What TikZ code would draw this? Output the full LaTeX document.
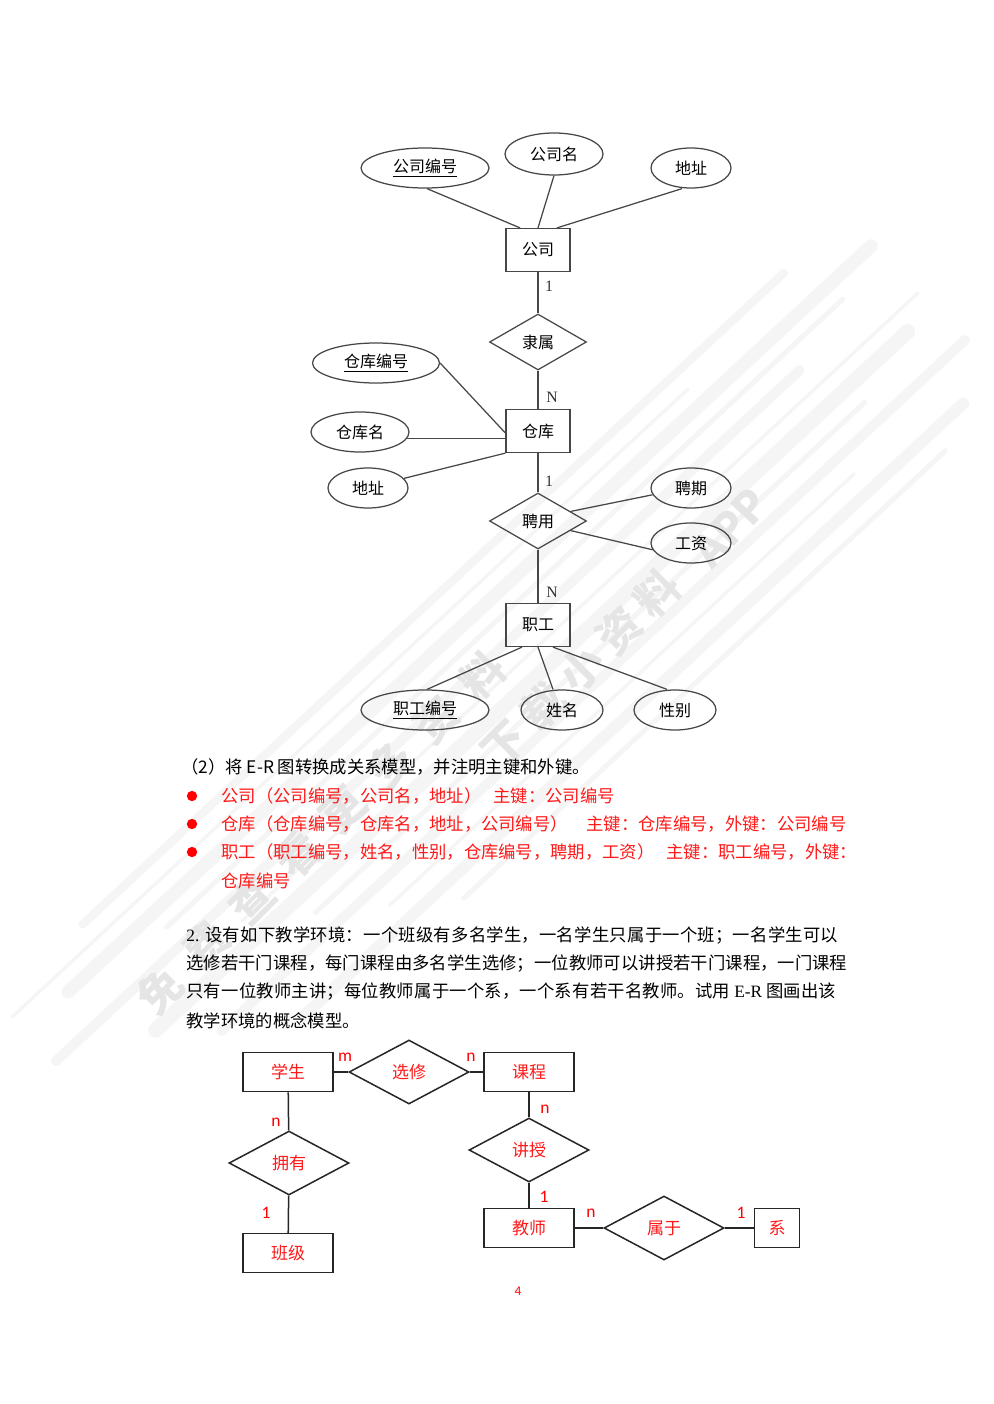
\documentclass[tikz,border=0pt]{standalone}
\usepackage{fontspec}
\setmainfont{Noto Sans CJK SC}
\newfontfamily\tms{Liberation Serif}
\newfontfamily\carl{Carlito}
\usetikzlibrary{shapes.geometric,calc}
\newcommand\jline[2]{\parbox{#1}{\XeTeXlinebreaklocale "zh"\XeTeXlinebreakskip=0pt plus 1.5pt\relax\parfillskip=0pt\relax #2}}
\begin{document}
\begin{tikzpicture}[x=0.6pt,y=-0.6pt,
  ln/.style={draw=black!72, line width=0.75pt},
  bl/.style={draw=black!85, line width=0.9pt},
  ent/.style={rectangle, ln, inner sep=0, minimum width=38.4pt, minimum height=25.8pt, font=\fontsize{9.6}{11}\selectfont},
  rel/.style={diamond, ln, inner sep=0, minimum width=58.2pt, minimum height=33.6pt, font=\fontsize{9.6}{11}\selectfont},
  att/.style={ellipse, ln, inner sep=0, minimum height=24pt, font=\fontsize{9.6}{11}\selectfont},
  card/.style={inner sep=0, font=\tms\fontsize{9.5}{11}\selectfont, text=black!80},
  bent/.style={rectangle, bl, inner sep=0, minimum width=54pt, minimum height=23.4pt, text=red!90, font=\fontsize{10.2}{12}\selectfont},
  brel/.style={diamond, bl, inner sep=0, minimum width=72pt, minimum height=38.4pt, text=red!90, font=\fontsize{10.2}{12}\selectfont},
  bcard/.style={inner sep=0, text=red, font=\carl\fontsize{10.5}{12}\selectfont},
  txt/.style={inner sep=0, anchor=west, font=\fontsize{10.4}{12}\selectfont},
  rtxt/.style={txt, text=red!90},
  bullet/.style={circle, fill=red, inner sep=0, minimum size=6.2pt},
  wm/.style={inner sep=0, text=black!10, font=\bfseries\fontsize{26}{28}\selectfont},
  wmline/.style={draw=black!4, line cap=round}
]
\fill[white] (0,0) rectangle (993,1404);
\useasboundingbox (0,0) rectangle (993,1404);

% ---------- watermark ----------
\coordinate (w1) at (70,1075);
\coordinate (w2) at (915,290);
\foreach \o/\w/\a/\b in {-72/5/0.10/0.93,-58/2/0.0/0.80,-44/8/0.05/1.0,-30/3/0.15/0.95,-14/6/0.0/0.88,3/2/0.2/1.0,18/9/0.08/0.97,34/3/0.25/0.90,50/6/0.12/1.0,66/2/0.30/0.85,82/7/0.18/0.96,98/3/0.35/0.92}{
  \draw[wmline, line width=\w pt] ($(w1)!\a!(w2)+(\o,\o)$) -- ($(w1)!\b!(w2)+(\o,\o)$);
}
\foreach \c [count=\i from 0] in {免,费,查,看,更,多,资,料}{
  \node[wm, rotate=45] (wa\i) at ({160+46*\i},{990-45*\i}) {\c};
}
\foreach \c [count=\i from 0] in {下,载,小,资,料}{
  \node[wm, rotate=45] (wb\i) at ({505+38*\i},{745-38*\i}) {\c};
}
\node[wm, rotate=47, anchor=west] (wbapp) at (700,560) {APP};

% ---------- ER diagram 1 ----------
\node[ent] (gs) at (538,250) {公司};
\node[att, minimum width=76.8pt] (gsbh) at (425,168) {\underline{公司编号}};
\node[att, minimum width=58.8pt, minimum height=25.2pt] (gsm) at (554,154) {公司名};
\node[att, minimum width=48pt] (gsdz) at (691,168) {地址};
\node[rel] (ls) at (538,342) {隶属};
\node[ent] (ck) at (538,431) {仓库};
\node[att, minimum width=76.2pt] (ckbh) at (376,363) {\underline{仓库编号}};
\node[att, minimum width=58.8pt] (ckm) at (360,432) {仓库名};
\node[att, minimum width=48pt] (ckdz) at (368,488) {地址};
\node[rel] (py) at (538,521) {聘用};
\node[att, minimum width=48pt] (pq) at (691,488) {聘期};
\node[att, minimum width=48pt] (gz) at (691,543) {工资};
\node[ent] (zg) at (538,625) {职工};
\node[att, minimum width=76.8pt] (zgbh) at (425,710) {\underline{职工编号}};
\node[att, minimum width=49.2pt] (xm) at (562,710) {姓名};
\node[att, minimum width=49.2pt] (xb) at (675,710) {性别};

\draw[ln] ([xshift=1.2pt]gsbh.south) -- ([xshift=-10.8pt]gs.north);
\draw[ln] (gsm.south) -- (gs.north);
\draw[ln] ([xshift=-5.4pt]gsdz.south) -- ([xshift=11.4pt]gs.north);
\draw[ln] (gs) -- (ls);
\draw[ln] (ls) -- (ck);
\draw[ln] (ckbh.east) -- ([yshift=-1.2pt]ck.west);
\draw[ln] (ckm.-8) -- (ckm.-8 -| ck.west);
\draw[ln] (ckdz.15) -- (ck.south west);
\draw[ln] (ck) -- (py);
\draw[ln] ($(py.north east)!0.33!(py.east)$) -- (pq.190);
\draw[ln] ($(py.south east)!0.33!(py.east)$) -- (gz.190);
\draw[ln] (py) -- (zg);
\draw[ln] ([xshift=-9.6pt]zg.south) -- ([xshift=1.2pt]zgbh.north);
\draw[ln] (zg.south) -- ([xshift=-5.4pt]xm.north);
\draw[ln] ([xshift=9pt]zg.south) -- ([xshift=-4.8pt]xb.north);

\node[card] (c1) at (549,286) {1};
\node[card] (c2) at (552,397) {N};
\node[card] (c3) at (549,481) {1};
\node[card] (c4) at (552,592) {N};

% ---------- relational model text ----------
\node[txt] (h2) at (181,767) {（2）将 E-R 图转换成关系模型，并注明主键和外键。};
\node[bullet] (b1) at (192,796) {};
\node[bullet] (b2) at (192,824) {};
\node[bullet] (b3) at (192,852) {};
\node[rtxt] (r1a) at (221,796) {公司（公司编号，公司名，地址）};
\node[rtxt] (r1b) at (493,796) {主键：公司编号};
\node[rtxt] (r2a) at (221,824) {仓库（仓库编号，仓库名，地址，公司编号）};
\node[rtxt] (r2b) at (586,824) {主键：仓库编号，外键：公司编号};
\node[rtxt] (r3a) at (221,852) {职工（职工编号，姓名，性别，仓库编号，聘期，工资）};
\node[rtxt] (r3b) at (666,852) {主键：职工编号，外键：};
\node[rtxt] (r4) at (221,881) {仓库编号};

\node[txt] (p1) at (186,936) {\jline{391.2pt}{{\tms 2.} 设有如下教学环境：一个班级有多名学生，一名学生只属于一个班；一名学生可以}};
\node[txt] (p2) at (186,964) {\jline{396.6pt}{选修若干门课程，每门课程由多名学生选修；一位教师可以讲授若干门课程，一门课程}};
\node[txt] (p3) at (186,992) {\jline{390pt}{只有一位教师主讲；每位教师属于一个系，一个系有若干名教师。试用 {\tms E-R} 图画出该}};
\node[txt] (p4) at (186,1021) {教学环境的概念模型。};

% ---------- ER diagram 2 ----------
\node[bent] (xs) at (288,1072) {学生};
\node[brel] (xx) at (409,1072) {选修};
\node[bent] (kc) at (529,1072) {课程};
\node[brel] (yy) at (289,1163) {拥有};
\node[bent] (bj) at (288,1253) {班级};
\node[brel] (jsh) at (529,1150) {讲授};
\node[bent] (js) at (529,1228) {教师};
\node[brel] (sy) at (664,1228) {属于};
\node[bent, minimum width=27pt] (xi) at (777,1228) {系};

\draw[bl] (xs) -- (xx);
\draw[bl] (xx) -- (kc);
\draw[bl] (xs) -- (yy);
\draw[bl] (yy) -- (bj);
\draw[bl] (kc) -- (jsh);
\draw[bl] (jsh) -- (js);
\draw[bl] (js) -- (sy);
\draw[bl] (sy) -- (xi);

\node[bcard] (m1) at (345,1057) {m};
\node[bcard] (n1) at (471,1057) {n};
\node[bcard] (n2) at (276,1122) {n};
\node[bcard] (o1) at (266,1213) {1};
\node[bcard] (n3) at (545,1109) {n};
\node[bcard] (o2) at (544,1197) {1};
\node[bcard] (n4) at (591,1213) {n};
\node[bcard] (o3) at (741,1213) {1};

\node[inner sep=0, text=red, font=\carl\fontsize{8}{9}\selectfont] (pg) at (518,1291) {4};
\end{tikzpicture}
\end{document}
